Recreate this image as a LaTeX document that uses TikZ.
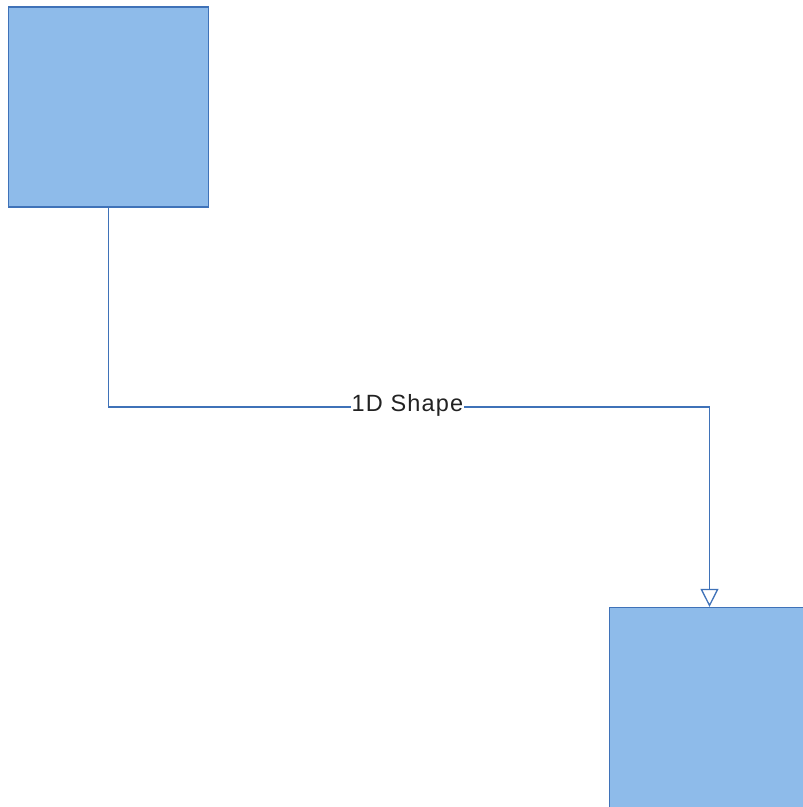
\documentclass[tikz,border=0pt]{standalone}
\usepackage{fontspec}
\newfontfamily\lblfont[LetterSpace=5]{Liberation Sans}
\usetikzlibrary{arrows.meta}
\definecolor{boxfill}{HTML}{8EBBEA}
\definecolor{boxline}{HTML}{3F72B8}
\definecolor{txt}{HTML}{222222}
\tikzset{
  shapebox/.style={draw=boxline, fill=boxfill, line width=1.3pt, minimum width=200pt, minimum height=200pt, inner sep=0pt},
  conn/.style={draw=boxline, line width=1.3pt, -{Triangle[open, width=18pt, length=18pt, line width=1.3pt]}},
  lbl/.style={fill=white, inner sep=1pt, text=txt, font=\lblfont\fontsize{23.5}{27}\selectfont}
}
\begin{document}
\begin{tikzpicture}[x=1pt,y=-1pt]
\useasboundingbox (0,0) rectangle (803,807);
\clip (0,0) rectangle (803,807);
\node[shapebox] (a) at (108.5,107) {};
\node[shapebox] (b) at (709.5,707.5) {};
\coordinate (c1) at (108.5,407);
\coordinate (c2) at (709.5,407);
\draw[conn] (a.south) -- (c1) -- (c2) -- (b.north);
\node[lbl, anchor=base] (l) at (407.5,411) {1D Shape};
\end{tikzpicture}
\end{document}
